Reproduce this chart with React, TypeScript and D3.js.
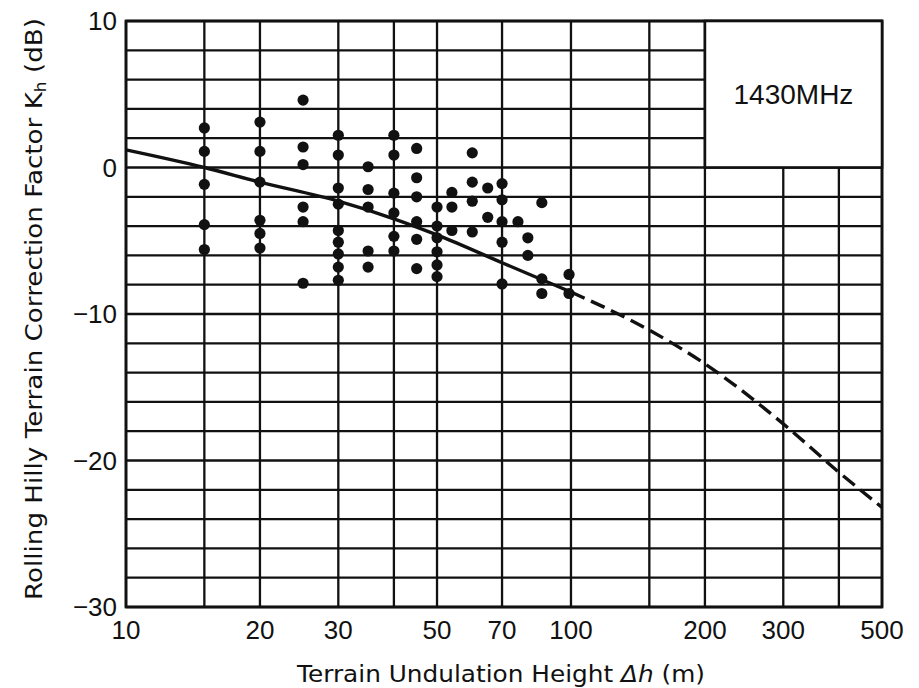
import React from 'react';
import * as d3 from 'd3';

const W = 919;
const H = 688;

// Axis ticks and grid
const xTicks = [10, 20, 30, 50, 70, 100, 200, 300, 500];
const xGrid = [10, 15, 20, 30, 40, 50, 70, 100, 150, 200, 300, 400, 500];
const yTicks = [10, 0, -10, -20, -30];
const yGrid = [-30, -28, -26, -24, -22, -20, -18, -16, -14, -12, -10, -8, -6, -4, -2, 0, 2, 4, 6, 8, 10];

// Median curve (solid to 100 m, dashed beyond)
const curveX = [10, 15, 20, 30, 40, 50, 70, 100, 150, 200, 300, 400, 500];
const curveK = [1.2, 0.0, -1.0, -2.3, -3.5, -4.6, -6.5, -8.5, -11.1, -13.4, -17.5, -20.8, -23.2];

// Measured points, grouped by terrain undulation height
const dotColumns = [15, 20, 25, 30, 35, 40, 45, 50, 54, 60, 65, 70, 76, 80, 86, 99];
const dotValues = [
  [2.7, 1.1, -1.15, -3.9, -5.6],
  [3.1, 1.1, -1.0, -3.6, -4.5, -5.5],
  [4.6, 1.4, 0.2, -2.7, -3.7, -7.9],
  [2.2, 0.85, -1.4, -2.5, -4.3, -5.1, -5.9, -6.8, -7.7],
  [0.05, -1.5, -2.7, -5.7, -6.8],
  [2.2, 0.85, -1.75, -3.1, -4.7, -5.7],
  [1.3, -0.7, -2.0, -3.7, -4.9, -6.9],
  [-2.7, -4.0, -4.8, -5.75, -6.65, -7.45],
  [-1.7, -2.7, -4.3],
  [1.0, -1.0, -2.3, -4.4],
  [-1.4, -3.4],
  [-1.1, -2.2, -3.7, -5.1, -7.95],
  [-3.7],
  [-4.8, -6.0],
  [-2.4, -7.6, -8.6],
  [-7.3, -8.6],
];

const legendLabel = '1430MHz';
const legendX = [200, 500];
const legendY = [0, 10];

const FONT = "'Liberation Sans', Arial, sans-serif";
const TITLE_FONT = "'DejaVu Sans', 'Liberation Sans', sans-serif";
const INK = '#111';

export default function App() {
  const x = d3.scaleLog().domain([10, 500]).range([126, 882]);
  const y = d3.scaleLinear().domain([-30, 10]).range([607, 21]);

  const pts: [number, number][] = curveX.map((v, i) => [v, curveK[i]]);
  const solidPts = pts.filter((p) => p[0] <= 100);
  const dashPts = pts.filter((p) => p[0] >= 100);
  const line = d3
    .line<[number, number]>()
    .x((d) => x(d[0]))
    .y((d) => y(d[1]))
    .curve(d3.curveMonotoneX);

  const dots: [number, number][] = [];
  dotColumns.forEach((c, i) => dotValues[i].forEach((v) => dots.push([c, v])));

  const [x0, x1] = x.range();
  const [y0, y1] = [y(-30), y(10)];

  return (
    <svg
      width={W}
      height={H}
      viewBox={`0 0 ${W} ${H}`}
      style={{ position: 'absolute', left: 0, top: 0, background: '#fff' }}
      fontFamily={FONT}
    >
      <rect width={W} height={H} fill="#fff" />
      {/* grid */}
      <g stroke={INK} strokeWidth={2.3}>
        {xGrid.map((v) => (
          <line key={'gx' + v} x1={x(v)} x2={x(v)} y1={y0} y2={y1} />
        ))}
        {yGrid.map((v) => (
          <line key={'gy' + v} x1={x0} x2={x1} y1={y(v)} y2={y(v)} />
        ))}
      </g>
      {/* frame */}
      <rect x={x0} y={y1} width={x1 - x0} height={y0 - y1} fill="none" stroke={INK} strokeWidth={2.8} />
      {/* legend box */}
      <rect
        x={x(legendX[0])}
        y={y(legendY[1])}
        width={x(legendX[1]) - x(legendX[0])}
        height={y(legendY[0]) - y(legendY[1])}
        fill="#fff"
        stroke={INK}
        strokeWidth={2.6}
      />
      <text
        x={(x(legendX[0]) + x(legendX[1])) / 2}
        y={(y(legendY[0]) + y(legendY[1])) / 2}
        textAnchor="middle"
        dominantBaseline="central"
        fontSize={28}
        fill={INK}
      >
        {legendLabel}
      </text>
      {/* curve */}
      <path d={line(solidPts) || ''} fill="none" stroke={INK} strokeWidth={3.4} />
      <path d={line(dashPts) || ''} fill="none" stroke={INK} strokeWidth={3.4} strokeDasharray="15 7" />
      {/* dots */}
      <g fill={INK}>
        {dots.map((d, i) => (
          <circle key={i} cx={x(d[0])} cy={y(d[1])} r={5.6} />
        ))}
      </g>
      {/* x tick labels */}
      <g fontSize={26} fill={INK} textAnchor="middle">
        {xTicks.map((v) => (
          <text key={'xt' + v} x={x(v)} y={639}>
            {v}
          </text>
        ))}
      </g>
      {/* y tick labels */}
      <g fontSize={26} fill={INK} textAnchor="end">
        {yTicks.map((v) => (
          <text key={'yt' + v} x={117} y={y(v)} dominantBaseline="central">
            {v < 0 ? '\u2212' + Math.abs(v) : String(v)}
          </text>
        ))}
      </g>
      {/* axis titles */}
      <text
        x={297}
        y={682}
        fontSize={23}
        fill={INK}
        fontFamily={TITLE_FONT}
        textLength={408}
        lengthAdjust="spacingAndGlyphs"
      >
        Terrain Undulation Height <tspan fontStyle="italic">Δh</tspan> (m)
      </text>
      <text
        transform="translate(42,600) rotate(-90)"
        fontSize={23}
        fill={INK}
        fontFamily={TITLE_FONT}
        textLength={582}
        lengthAdjust="spacingAndGlyphs"
      >
        Rolling Hilly Terrain Correction Factor K
        <tspan fontSize={15} dy={4}>h</tspan>
        <tspan dy={-4}> (dB)</tspan>
      </text>
    </svg>
  );
}
